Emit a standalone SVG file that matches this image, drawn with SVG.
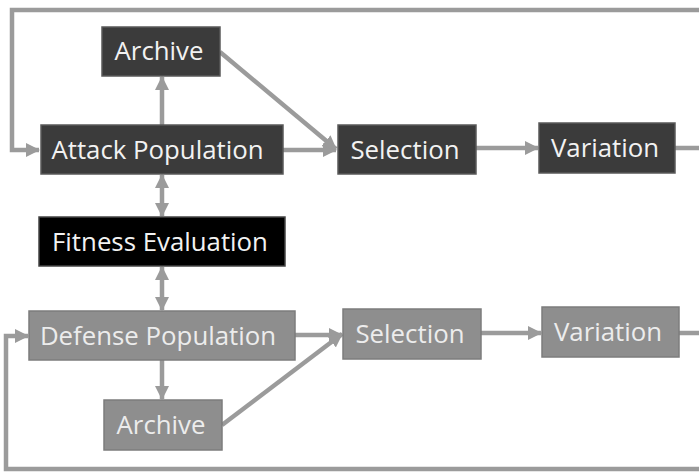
<svg xmlns="http://www.w3.org/2000/svg" width="699" height="472" viewBox="0 0 699 472">
<style>
.dark rect{fill:#3b3b3b;stroke:#5a5a5a;stroke-width:1.5}
.black rect{fill:#000;stroke:#444;stroke-width:1.5}
.gray rect{fill:#8e8e8e;stroke:#7c7c7c;stroke-width:1.5}
text{font-family:"Open Sans","Noto Sans",sans-serif;font-size:25.8px;text-anchor:middle;fill:#f2f2f2}
.gray text{fill:#ececec}
.conn path{fill:none;stroke:#9b9b9b;stroke-width:4.5}
</style>
<defs>
<marker id="ah" markerUnits="userSpaceOnUse" markerWidth="14" markerHeight="14" viewBox="0 0 14 14" refX="13" refY="7" orient="auto-start-reverse">
<path d="M0,0 L14,7 L0,14 Z" fill="#9b9b9b"/>
</marker>
</defs>
<rect width="699" height="472" fill="#fff"/>
<g class="conn">
<path d="M675,148 H706 V10 H12 V150 H39" marker-end="url(#ah)"/>
<path d="M679,333 H706 V469 H6 V336 H28" marker-end="url(#ah)"/>
<path d="M162,125 V77" marker-end="url(#ah)"/>
<path d="M162,175 V216" marker-start="url(#ah)" marker-end="url(#ah)"/>
<path d="M162,267 V310" marker-start="url(#ah)" marker-end="url(#ah)"/>
<path d="M162,360 V399" marker-end="url(#ah)"/>
<path d="M283,150 H336" marker-end="url(#ah)"/>
<path d="M220,52 L336,149" marker-end="url(#ah)"/>
<path d="M476,148 H538" marker-end="url(#ah)"/>
<path d="M295,335 H342" marker-end="url(#ah)"/>
<path d="M222,425 L342,334" marker-end="url(#ah)"/>
<path d="M481,333 H541" marker-end="url(#ah)"/>
</g>
<g id="attack-archive" class="dark"><rect x="102" y="27" width="118" height="49"/><text x="159" y="60">Archive</text></g>
<g id="attack-population" class="dark"><rect x="41" y="125" width="242" height="49"/><text x="157.5" y="159">Attack Population</text></g>
<g id="attack-selection" class="dark"><rect x="338" y="125" width="138" height="49"/><text x="405" y="159">Selection</text></g>
<g id="attack-variation" class="dark"><rect x="539" y="123" width="136" height="50"/><text x="605" y="157">Variation</text></g>
<g id="fitness-evaluation" class="black"><rect x="39" y="217" width="246" height="49"/><text x="160" y="251">Fitness Evaluation</text></g>
<g id="defense-population" class="gray"><rect x="29" y="311" width="266" height="49"/><text x="158" y="345">Defense Population</text></g>
<g id="defense-selection" class="gray"><rect x="343" y="309" width="138" height="50"/><text x="410" y="343">Selection</text></g>
<g id="defense-variation" class="gray"><rect x="542" y="307" width="137" height="50"/><text x="608" y="341">Variation</text></g>
<g id="defense-archive" class="gray"><rect x="104" y="400" width="118" height="50"/><text x="161" y="434">Archive</text></g>
</svg>
